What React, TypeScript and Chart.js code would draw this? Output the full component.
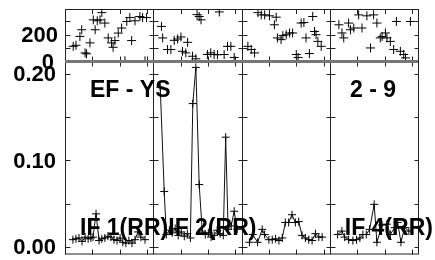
import React, { useEffect, useRef } from "react";
import { Chart, registerables } from "chart.js";
Chart.register(...registerables);

// ---- data ----
const PANEL_SPAN = 29; // minutes per panel
const timeTicks = [9, 18, 27];
const ampTicks = [0, 0.05, 0.1, 0.15, 0.2];
const ampLabelTicks = [0, 0.1, 0.2];
const phaseTicks = [100, 200, 300];
const phaseLabelTicks = [0, 200];
const panelLabels = ["IF 1(RR)", "IF 2(RR)", "", "IF 4(RR)"];
const stationLabel = "EF - YS";
const baselineLabel = "2 - 9";

const ampTimesIF1 = [2.6, 3.6, 4.6, 5.6, 6.6, 7.6, 8.5, 9.2, 10.2, 11.2, 12.1, 13.1, 14.1, 15.1, 16.1, 17.1, 18.1, 19.0, 20.0, 21.0, 22.0, 23.0, 24.0, 24.9, 26.3];
const ampIF1 = [0.008, 0.009, 0.010, 0.006, 0.011, 0.009, 0.010, 0.011, 0.038, 0.007, 0.009, 0.010, 0.012, 0.011, 0.008, 0.007, 0.010, 0.005, 0.004, 0.007, 0.004, 0.008, 0.017, 0.011, 0.008];
const ampTimesIF2 = [2.3, 3.6, 4.3, 5.3, 6.2, 7.2, 8.2, 9.2, 10.2, 11.2, 12.2, 13.0, 14.0, 15.1, 16.1, 17.1, 18.1, 19.0, 20.0, 21.0, 22.0, 23.0, 23.8, 24.6, 25.6, 26.6, 27.6];
const ampIF2 = [0.185, 0.064, 0.014, 0.019, 0.016, 0.021, 0.013, 0.017, 0.012, 0.015, 0.010, 0.166, 0.208, 0.072, 0.018, 0.014, 0.016, 0.011, 0.013, 0.019, 0.015, 0.013, 0.127, 0.020, 0.024, 0.041, 0.020];
const ampTimesIF3 = [2.6, 3.7, 5.3, 6.8, 7.6, 9.0, 10.1, 11.2, 12.3, 13.4, 14.4, 15.5, 16.6, 17.7, 18.8, 19.9, 21.0, 22.1, 23.2, 24.3, 25.4, 26.5];
const ampIF3 = [0.005, 0.014, 0.005, 0.020, 0.014, 0.008, 0.008, 0.009, 0.007, 0.010, 0.028, 0.028, 0.037, 0.028, 0.029, 0.013, 0.010, 0.008, 0.007, 0.015, 0.011, 0.011];
const ampTimesIF4 = [2.6, 4.0, 4.9, 6.2, 7.6, 8.8, 9.9, 10.9, 12.0, 13.1, 14.6, 15.5, 17.2, 18.8, 19.9, 21.3, 22.3, 23.4, 24.6, 26.0];
const ampIF4 = [0.014, 0.018, 0.011, 0.008, 0.007, 0.008, 0.010, 0.014, 0.014, 0.020, 0.049, 0.005, 0.025, 0.026, 0.014, 0.022, 0.028, 0.005, 0.022, 0.018];

const phaseTimesIF1 = [2.7, 3.6, 4.9, 5.5, 6.6, 7.1, 8.2, 9.3, 9.9, 10.6, 11.5, 12.1, 13.1, 14.2, 15.3, 15.8, 16.4, 17.5, 18.6, 19.7, 20.3, 21.3, 21.9, 23.0, 24.6, 25.5, 26.3, 26.8];
const phaseIF1 = [113, 121, 187, 237, 64, 57, 139, 311, 237, 304, 311, 365, 287, 176, 139, 106, 156, 212, 250, 5, 299, 328, 156, 304, 336, 328, 5, 328];
const phaseTimesIF2 = [2.7, 3.1, 4.7, 5.8, 6.9, 8.0, 9.1, 9.6, 10.7, 11.3, 12.9, 14.0, 14.4, 15.1, 15.7, 17.8, 18.9, 20.0, 21.1, 21.7, 23.3, 24.4, 25.5, 26.6];
const phaseIF2 = [262, 176, 89, 89, 158, 168, 183, 76, 64, 143, 39, 20, 350, 336, 311, 52, 64, 52, 50, 370, 52, 113, 113, 30];
const phaseTimesIF3 = [2.1, 3.2, 4.3, 5.4, 6.5, 7.6, 9.2, 10.8, 11.4, 11.8, 13.0, 13.6, 14.7, 15.8, 16.8, 18.0, 18.6, 19.6, 20.5, 21.2, 22.3, 23.4, 24.0, 24.5, 25.1, 26.2];
const phaseIF3 = [113, 89, 64, 365, 348, 348, 341, 274, 331, 176, 163, 193, 200, 213, 213, 52, 30, 287, 291, 176, 59, 336, 224, 200, 150, 113];
const phaseTimesIF4 = [3.0, 4.0, 4.6, 6.2, 6.8, 7.9, 9.5, 10.6, 12.2, 13.4, 14.4, 15.5, 16.6, 17.2, 18.3, 18.8, 19.9, 21.0, 21.9, 23.2, 24.3, 24.9, 26.5];
const phaseIF4 = [274, 213, 176, 287, 237, 250, 348, 250, 341, 101, 348, 287, 176, 187, 213, 176, 150, 89, 299, 76, 52, 27, 299];

const ampPanels = [
  [ampTimesIF1, ampIF1],
  [ampTimesIF2, ampIF2],
  [ampTimesIF3, ampIF3],
  [ampTimesIF4, ampIF4],
];
const phasePanels = [
  [phaseTimesIF1, phaseIF1],
  [phaseTimesIF2, phaseIF2],
  [phaseTimesIF3, phaseIF3],
  [phaseTimesIF4, phaseIF4],
];

const LABEL_FONT = 'bold 22px "Liberation Sans", Arial, sans-serif';
const TEXT_FONT = 'bold 23px "Liberation Sans", Arial, sans-serif';

const framePlugin = {
  id: "vplotFrame",
  afterDatasetsDraw(chart: any) {
    const ctx = chart.ctx;
    const xS = chart.scales.x;
    const yP = chart.scales.yP;
    const yA = chart.scales.yA;
    const { left: L, right: R, top: T, bottom: B } = chart.chartArea;
    const mid = yP.bottom;
    const line = (x1: number, y1: number, x2: number, y2: number) => {
      ctx.beginPath();
      ctx.moveTo(x1, y1);
      ctx.lineTo(x2, y2);
      ctx.stroke();
    };
    ctx.save();
    ctx.strokeStyle = "#222";
    ctx.lineWidth = 1;
    const nPanels = ampPanels.length;
    const bx: number[] = [];
    for (let i = 0; i <= nPanels; i++) bx.push(Math.round(xS.getPixelForValue(i * PANEL_SPAN)) + 0.5);
    bx.forEach((x) => line(x, T, x, B));
    line(L, T + 0.5, R, T + 0.5);
    line(L, B - 0.5, R, B - 0.5);
    // y ticks
    bx.forEach((x, i) => {
      const x1 = i > 0 ? x - 4 : x;
      const x2 = i < nPanels ? x + 5 : x;
      ampTicks.forEach((v) => {
        const y = Math.round(yA.getPixelForValue(v)) + 0.5;
        line(x1, y, x2, y);
      });
      phaseTicks.forEach((v) => {
        const y = Math.round(yP.getPixelForValue(v)) + 0.5;
        line(x1, y, x2, y);
      });
    });
    // x ticks
    for (let p = 0; p < nPanels; p++) {
      timeTicks.forEach((t) => {
        const x = Math.round(xS.getPixelForValue(p * PANEL_SPAN + t)) + 0.5;
        line(x, B, x, B - 5);
        line(x, mid, x, mid + 5);
        line(x, mid, x, mid - 5);
        line(x, T, x, T + 5);
      });
    }
    // strip separator
    ctx.strokeStyle = "#777";
    ctx.lineWidth = 3;
    line(L, mid, R, mid);

    // axis labels
    ctx.fillStyle = "#000";
    ctx.font = LABEL_FONT;
    ctx.textAlign = "right";
    ctx.textBaseline = "middle";
    ampLabelTicks.forEach((v) => {
      ctx.fillText(v.toFixed(2), L - 9, yA.getPixelForValue(v) + 1);
    });
    phaseLabelTicks.forEach((v) => {
      ctx.fillText(String(v), v === 0 ? L - 11 : L - 7, yP.getPixelForValue(v) + 1);
    });

    // in-plot texts
    ctx.font = TEXT_FONT;
    ctx.textAlign = "left";
    ctx.textBaseline = "alphabetic";
    ctx.fillText(stationLabel, L + 25, T + 88);
    ctx.fillText(baselineLabel, R - 68, T + 88);
    panelLabels.forEach((lab, p) => {
      if (!lab) return;
      ctx.fillText(lab, xS.getPixelForValue(p * PANEL_SPAN) + 15, B - 20);
    });
    ctx.restore();
  },
};

export default function App() {
  const ref = useRef<HTMLCanvasElement>(null);
  useEffect(() => {
    if (!ref.current) return;
    const datasets: any[] = [];
    ampPanels.forEach(([ts, vs], p) => {
      datasets.push({
        type: "line",
        data: ts.map((t, i) => ({ x: p * PANEL_SPAN + t, y: vs[i] })),
        yAxisID: "yA",
        xAxisID: "x",
        borderColor: "#111",
        borderWidth: 1,
        pointStyle: "cross",
        pointRadius: 4,
        pointBorderColor: "#000",
        pointBorderWidth: 1,
        showLine: true,
        tension: 0,
        fill: false,
      });
    });
    phasePanels.forEach(([ts, vs], p) => {
      datasets.push({
        type: "scatter",
        data: ts.map((t, i) => ({ x: p * PANEL_SPAN + t, y: vs[i] })),
        yAxisID: "yP",
        xAxisID: "x",
        pointStyle: "cross",
        pointRadius: 4.5,
        pointBorderColor: "#000",
        pointBorderWidth: 1,
        showLine: false,
      });
    });
    const chart = new Chart(ref.current, {
      type: "scatter",
      data: { datasets },
      options: {
        animation: false,
        responsive: false,
        maintainAspectRatio: false,
        events: [],
        layout: { padding: { left: 65, right: 17, top: 9, bottom: 3 } },
        plugins: { legend: { display: false }, tooltip: { enabled: false }, title: { display: false } },
        scales: {
          x: { type: "linear", min: 0, max: PANEL_SPAN * ampPanels.length, display: false },
          yA: { type: "linear", position: "left", stack: "v", stackWeight: 195, min: -0.0092, max: 0.2149, display: false },
          yP: { type: "linear", position: "left", stack: "v", stackWeight: 53, min: 0, max: 392, display: false },
        },
      },
      plugins: [framePlugin],
    } as any);
    return () => chart.destroy();
  }, []);
  return (
    <div style={{ position: "absolute", left: 0, top: 0, width: 435, height: 260, background: "#fff" }}>
      <canvas ref={ref} width={435} height={260} style={{ width: 435, height: 260 }} />
    </div>
  );
}
